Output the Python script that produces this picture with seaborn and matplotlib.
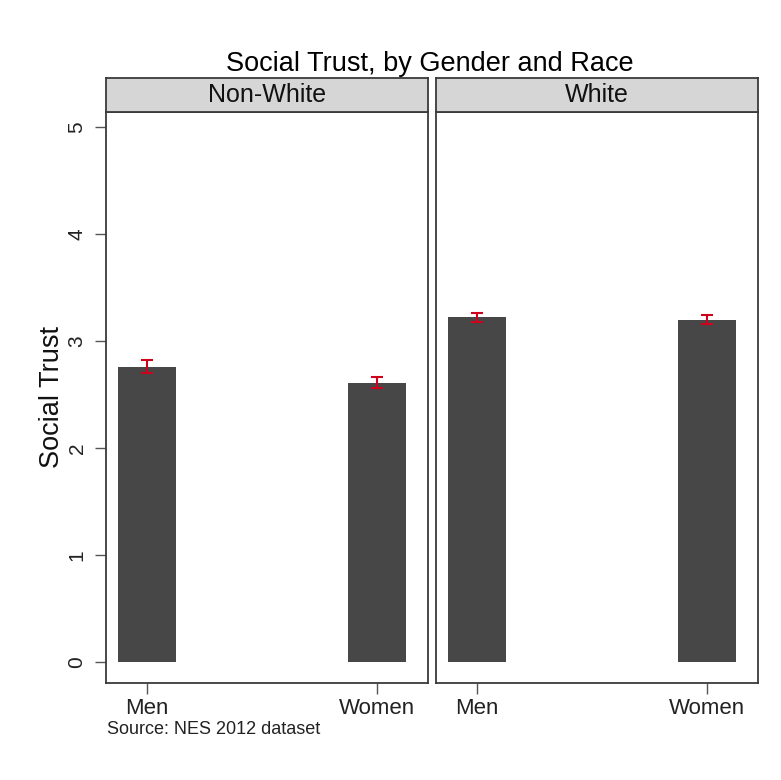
import matplotlib
matplotlib.use("Agg")
import matplotlib.pyplot as plt
import seaborn as sns
import pandas as pd

# Mean social trust by gender within each race group (NES 2012)
races = ["Non-White", "White"]
genders = ["Men", "Women"]
nonwhite_means = [2.76, 2.61]
white_means = [3.22, 3.20]
nonwhite_err = [0.06, 0.05]
white_err = [0.04, 0.04]
y_ticks = [0, 1, 2, 3, 4, 5]

sns.set_theme(style="white")
plt.rcParams["font.family"] = ["Liberation Sans", "DejaVu Sans"]

fig = plt.figure(figsize=(7.81, 7.80), dpi=100)
fig.patch.set_facecolor("white")

bar_color = "#474747"
err_color = "#d0021b"
edge = "#3a3a3a"

panels = [
    (races[0], nonwhite_means, nonwhite_err, 106),
    (races[1], white_means, white_err, 436),
]

W, H = 781.0, 780.0
for i, (race, means, errs, left_px) in enumerate(panels):
    ax = fig.add_axes([left_px / W, (H - 683) / H, 322 / W, (683 - 112) / H])
    df = pd.DataFrame({"Gender": genders, "Trust": means})
    sns.barplot(data=df, x="Gender", y="Trust", ax=ax, color=bar_color,
                saturation=1, width=0.252, errorbar=None, linewidth=0)
    ax.errorbar(range(len(genders)), means, yerr=errs, fmt="none",
                ecolor=err_color, elinewidth=1.5, capsize=4, capthick=1.5)
    ax.set_xlim(-0.178, 1.22)
    ax.set_ylim(-0.196, 5.14)
    ax.set_xlabel("")
    ax.set_facecolor("white")
    for s in ax.spines.values():
        s.set_color(edge)
        s.set_linewidth(1.3)
    ax.tick_params(axis="x", direction="out", length=8, width=1, color="#555555",
                   labelsize=16, pad=3, bottom=True, labelcolor="#222222")
    if i == 0:
        ax.set_yticks(y_ticks)
        ax.set_yticklabels([str(t) for t in y_ticks], rotation=90, va="center")
        ax.tick_params(axis="y", direction="out", length=8, width=1, color="#555555",
                       labelsize=15, pad=6, left=True, labelcolor="#222222")
        ax.set_ylabel("Social Trust", fontsize=19.5, labelpad=2, color="#111111")
    else:
        ax.set_yticks([])
        ax.set_ylabel("")

    # facet header strip
    sax = fig.add_axes([left_px / W, (H - 112) / H, 322 / W, 34 / H])
    sax.set_facecolor("#d6d6d6")
    sax.set_xticks([])
    sax.set_yticks([])
    for s in sax.spines.values():
        s.set_color(edge)
        s.set_linewidth(1.3)
    sax.text(0.5, 0.5, race, ha="center", va="center", fontsize=18,
             color="#111111", transform=sax.transAxes)

fig.text(430 / W, (H - 64) / H, "Social Trust, by Gender and Race",
         ha="center", va="center", fontsize=19.5, color="black")
fig.text(107 / W, (H - 730) / H, "Source: NES 2012 dataset",
         ha="left", va="center", fontsize=13, color="#222222")

fig.savefig("out.png", dpi=100, facecolor="white")
